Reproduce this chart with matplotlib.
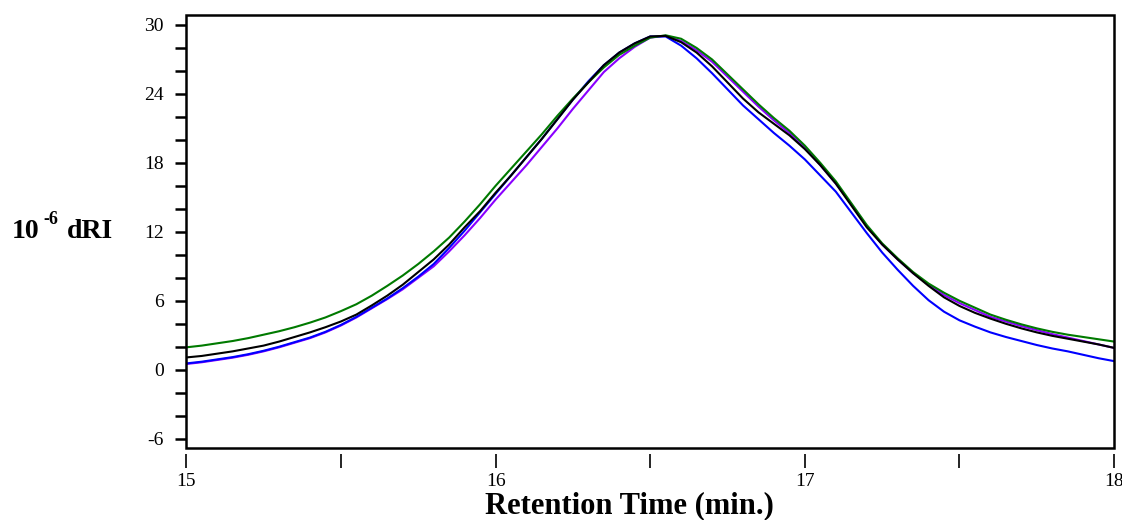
import matplotlib.pyplot as plt
import numpy as np
from matplotlib.patches import Rectangle
from matplotlib.ticker import MultipleLocator

plt.rcParams['font.family'] = ['Liberation Serif', 'DejaVu Serif']
plt.rcParams['axes.unicode_minus'] = False

# Retention time grid (min.)
time = [15.00, 15.05, 15.10, 15.15, 15.20, 15.25, 15.30, 15.35, 15.40, 15.45,
        15.50, 15.55, 15.60, 15.65, 15.70, 15.75, 15.80, 15.85, 15.90, 15.95,
        16.00, 16.05, 16.10, 16.15, 16.20, 16.25, 16.30, 16.35, 16.40, 16.45,
        16.50, 16.55, 16.60, 16.65, 16.70, 16.75, 16.80, 16.85, 16.90, 16.95,
        17.00, 17.05, 17.10, 17.15, 17.20, 17.25, 17.30, 17.35, 17.40, 17.45,
        17.50, 17.55, 17.60, 17.65, 17.70, 17.75, 17.80, 17.85, 17.90, 17.95,
        18.00]

# dRI signals (10^-6)
dri_black = [1.07, 1.2, 1.4, 1.6, 1.85, 2.1, 2.45, 2.85, 3.25, 3.7,
             4.2, 4.8, 5.6, 6.45, 7.4, 8.5, 9.6, 10.9, 12.4, 13.8,
             15.4, 16.9, 18.5, 20.1, 21.8, 23.5, 25.0, 26.5, 27.6, 28.4,
             29.0, 29.05, 28.5, 27.6, 26.4, 25.0, 23.6, 22.4, 21.4, 20.4,
             19.2, 17.8, 16.2, 14.3, 12.4, 10.9, 9.6, 8.4, 7.3, 6.3,
             5.55, 4.95, 4.45, 4.0, 3.6, 3.25, 2.95, 2.7, 2.45, 2.2,
             1.9]

dri_green = [1.95, 2.1, 2.3, 2.5, 2.75, 3.05, 3.35, 3.7, 4.1, 4.55,
             5.1, 5.7, 6.45, 7.3, 8.2, 9.2, 10.3, 11.5, 12.9, 14.4,
             16.0, 17.5, 19.0, 20.5, 22.1, 23.6, 25.0, 26.3, 27.4, 28.2,
             28.9, 29.1, 28.8, 28.0, 27.0, 25.7, 24.4, 23.1, 21.9, 20.8,
             19.5, 18.0, 16.4, 14.5, 12.6, 11.0, 9.7, 8.5, 7.5, 6.7,
             6.0, 5.4, 4.8, 4.35, 3.95, 3.6, 3.3, 3.05, 2.85, 2.65,
             2.45]

dri_blue = [0.55, 0.7, 0.9, 1.1, 1.35, 1.65, 2.0, 2.4, 2.8, 3.3,
            3.9, 4.6, 5.4, 6.2, 7.1, 8.1, 9.2, 10.6, 12.1, 13.7,
            15.3, 16.9, 18.5, 20.1, 21.8, 23.5, 25.1, 26.5, 27.6, 28.4,
            29.0, 29.0, 28.2, 27.1, 25.8, 24.4, 23.0, 21.8, 20.6, 19.5,
            18.3, 16.9, 15.5, 13.7, 11.9, 10.2, 8.7, 7.3, 6.05, 5.05,
            4.3, 3.75, 3.25, 2.85, 2.5, 2.15, 1.85, 1.6, 1.3, 1.0,
            0.75]

dri_purple = [0.5, 0.65, 0.85, 1.05, 1.3, 1.6, 1.95, 2.35, 2.75, 3.25,
              3.85, 4.55, 5.35, 6.15, 7.0, 8.0, 9.0, 10.3, 11.7, 13.2,
              14.8, 16.3, 17.8, 19.4, 21.0, 22.7, 24.3, 25.9, 27.1, 28.1,
              28.9, 29.05, 28.6, 27.8, 26.8, 25.5, 24.2, 22.9, 21.7, 20.6,
              19.3, 17.8, 16.2, 14.4, 12.5, 10.9, 9.6, 8.4, 7.4, 6.5,
              5.8, 5.2, 4.6, 4.2, 3.8, 3.45, 3.1, 2.8, 2.5, 2.2,
              1.9]

fig = plt.figure(figsize=(11.22, 5.2), dpi=100)
ax = fig.add_axes([0.166, 0.138, 0.827, 0.833])

ax.plot(time, dri_purple, color='#8a00ff', lw=1.5)
ax.plot(time, dri_blue, color='#0000ff', lw=1.5)
ax.plot(time, dri_green, color='#007a00', lw=1.5)
ax.plot(time, dri_black, color='black', lw=1.5)

ax.set_xlim(15, 18)
ax.set_ylim(-6.83, 30.86)

ax.yaxis.set_major_locator(MultipleLocator(6))
ax.yaxis.set_minor_locator(MultipleLocator(2))
ax.xaxis.set_major_locator(MultipleLocator(1))
ax.xaxis.set_minor_locator(MultipleLocator(0.5))

# frame drawn as a box; bottom ticks sit a little below it
for s in ax.spines.values():
    s.set_visible(False)
ax.spines['bottom'].set_position(('outward', 4))
ax.add_patch(Rectangle((0, 0), 1, 1, transform=ax.transAxes, fill=False,
                       lw=1.8, edgecolor='black', clip_on=False, zorder=5))

ax.tick_params(axis='y', which='both', direction='out', length=8, width=1.8,
               labelsize=14, pad=8)
ax.tick_params(axis='x', which='both', direction='out', length=10, width=1.2,
               labelsize=14, pad=4)
ax.tick_params(top=False, right=False)

ax.set_xlabel('Retention Time (min.)', fontsize=22, fontweight='bold', labelpad=0)
ax.xaxis.set_label_coords(0.478, -0.1)

# y label: 10^-6 dRI, horizontal
fig.text(12 / 1122, 1 - 238 / 520, '10', fontsize=20, fontweight='bold',
         ha='left', va='baseline')
fig.text(43 / 1122, 1 - 224 / 520, '-6', fontsize=13, fontweight='bold',
         ha='left', va='baseline')
fig.text(67 / 1122, 1 - 238 / 520, 'dRI', fontsize=20, fontweight='bold',
         ha='left', va='baseline')

plt.savefig('out.png', dpi=100, facecolor='white')
plt.close()
